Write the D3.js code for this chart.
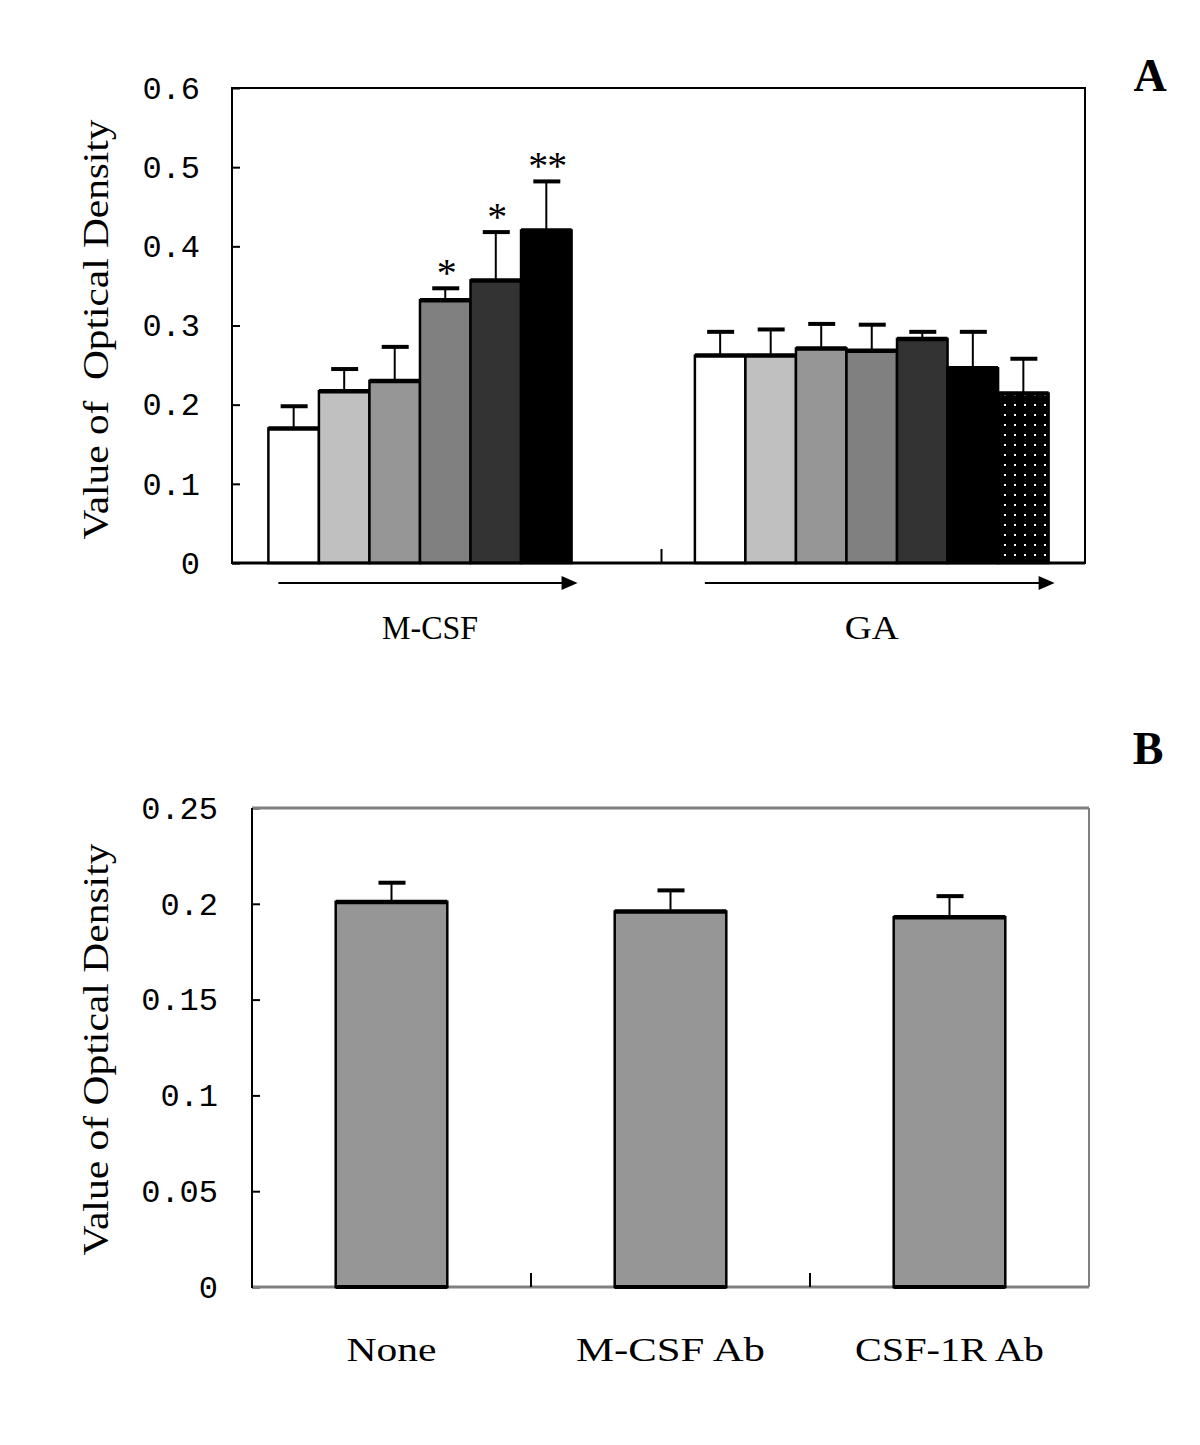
<!DOCTYPE html>
<html>
<head>
<meta charset="utf-8">
<script src="https://cdn.jsdelivr.net/npm/d3@7"></script>
<style>
  html, body { margin: 0; padding: 0; background: #fff; }
  svg { display: block; }
</style>
</head>
<body>
<svg id="chart" width="1200" height="1445"></svg>
<script>
// ---------- Data ----------
const groupsA = ["M-CSF", "GA"];
const mcsfValues = [0.170, 0.217, 0.230, 0.332, 0.357, 0.420];
const mcsfErrors = [0.028, 0.028, 0.043, 0.015, 0.061, 0.062];
const mcsfMarks  = ["", "", "", "*", "*", "**"];
const gaValues   = [0.262, 0.262, 0.271, 0.268, 0.283, 0.246, 0.214];
const gaErrors   = [0.030, 0.033, 0.031, 0.033, 0.009, 0.046, 0.044];
const seriesFills = ["#ffffff", "#c0c0c0", "#969696", "#808080", "#333333", "#000000", "url(#dots)"];
const ticksA = [0, 0.1, 0.2, 0.3, 0.4, 0.5, 0.6];
const tickLabelsA = ["0", "0.1", "0.2", "0.3", "0.4", "0.5", "0.6"];

const categoriesB = ["None", "M-CSF Ab", "CSF-1R Ab"];
const valuesB = [0.201, 0.196, 0.193];
const errorsB = [0.010, 0.011, 0.011];
const ticksB = [0, 0.05, 0.1, 0.15, 0.2, 0.25];
const tickLabelsB = ["0", "0.05", "0.1", "0.15", "0.2", "0.25"];

const svg = d3.select("#chart");
const defs = svg.append("defs");
const pat = defs.append("pattern").attr("id", "dots").attr("patternUnits", "userSpaceOnUse")
  .attr("width", 10).attr("height", 10);
pat.append("rect").attr("width", 10).attr("height", 10).attr("fill", "#000");
pat.append("rect").attr("x", 4).attr("y", 4).attr("width", 2).attr("height", 2).attr("fill", "#fff");

const serif = "'Liberation Serif', 'Times New Roman', serif";
const mono = "'Liberation Mono', monospace";

// ---------- Panel A ----------
const A = { left: 232, right: 1085, top: 88, bottom: 563 };
const yA = d3.scaleLinear().domain([0, 0.6]).range([A.bottom, A.top]);
const x0 = d3.scaleBand().domain(groupsA).range([A.left, A.right]);
const x1 = d3.scaleBand().domain(d3.range(7)).range([0, x0.bandwidth()]).paddingOuter(0.72).paddingInner(0);
const bw = x1.bandwidth();

const dataA = [
  { g: "M-CSF", vals: mcsfValues, errs: mcsfErrors, marks: mcsfMarks, labelW: 96 },
  { g: "GA", vals: gaValues, errs: gaErrors, marks: gaValues.map(() => ""), labelW: 54 }
];

const gA = svg.append("g");
const axA = d3.axisLeft(yA).tickValues(ticksA).tickFormat((d, i) => tickLabelsA[i])
  .tickSizeInner(-8).tickSizeOuter(0).tickPadding(32);
const axAg = gA.append("g").attr("transform", `translate(${A.left},0)`).call(axA);
axAg.select(".domain").remove();
axAg.selectAll(".tick line").attr("stroke", "#000").attr("stroke-width", 2);
axAg.selectAll(".tick text").attr("font-family", mono).attr("font-size", 32).attr("fill", "#000");

dataA.forEach(d => {
  const gx = x0(d.g);
  const grp = gA.append("g");
  d.vals.forEach((v, i) => {
    const x = gx + x1(i);
    grp.append("rect").attr("x", x).attr("y", yA(v)).attr("width", bw).attr("height", yA(0) - yA(v))
      .attr("fill", seriesFills[i]).attr("stroke", "#000").attr("stroke-width", 2.5);
    grp.append("line").attr("x1", x).attr("x2", x + bw).attr("y1", yA(v)).attr("y2", yA(v))
      .attr("stroke", "#000").attr("stroke-width", 4.5);
    const cx = x + bw / 2, ye = yA(v + d.errs[i]);
    grp.append("line").attr("x1", cx).attr("x2", cx).attr("y1", yA(v)).attr("y2", ye)
      .attr("stroke", "#000").attr("stroke-width", 2);
    grp.append("line").attr("x1", cx - 13).attr("x2", cx + 14).attr("y1", ye).attr("y2", ye)
      .attr("stroke", "#000").attr("stroke-width", 4);
    if (d.marks[i]) {
      grp.append("text").attr("x", cx + 1).attr("y", ye - 2).attr("text-anchor", "middle")
        .attr("font-family", serif).attr("font-size", 40)
        .attr("letter-spacing", -1).text(d.marks[i]);
    }
  });
  const n = d.vals.length;
  const xs = gx + x1(0) + 10, xe = gx + x1(n - 1) + bw + 6;
  const ay = 583;
  grp.append("line").attr("x1", xs).attr("x2", xe - 12).attr("y1", ay).attr("y2", ay)
    .attr("stroke", "#000").attr("stroke-width", 2);
  grp.append("path").attr("d", `M${xe},${ay} L${xe - 16},${ay - 7} L${xe - 16},${ay + 7} Z`).attr("fill", "#000");
  const lx = d.g === "M-CSF" ? x0(d.g) + x1(0) + 3.2 * bw : x0(d.g) + x1(0) + 3.5 * bw;
  grp.append("text").attr("x", lx).attr("y", 639).attr("text-anchor", "middle")
    .attr("font-family", serif).attr("font-size", 34)
    .attr("textLength", d.labelW).attr("lengthAdjust", "spacingAndGlyphs").text(d.g);
});

gA.append("rect").attr("x", A.left).attr("y", A.top).attr("width", A.right - A.left).attr("height", A.bottom - A.top)
  .attr("fill", "none").attr("stroke", "#000").attr("stroke-width", 2);
gA.append("line").attr("x1", A.left).attr("x2", A.right).attr("y1", A.bottom).attr("y2", A.bottom)
  .attr("stroke", "#000").attr("stroke-width", 3);
gA.append("line").attr("x1", x0("GA") + 3).attr("x2", x0("GA") + 3).attr("y1", A.bottom).attr("y2", A.bottom - 14)
  .attr("stroke", "#000").attr("stroke-width", 2);

gA.append("text").attr("transform", `translate(108,${(A.top + A.bottom) / 2 + 4}) rotate(-90)`)
  .attr("text-anchor", "middle").attr("font-family", serif).attr("font-size", 35)
  .attr("textLength", 420).attr("lengthAdjust", "spacingAndGlyphs").attr("xml:space", "preserve")
  .text("Value of  Optical Density");

svg.append("text").attr("x", 1150).attr("y", 91).attr("text-anchor", "middle")
  .attr("font-family", serif).attr("font-size", 46).attr("font-weight", "bold").text("A");

// ---------- Panel B ----------
const B = { left: 252, right: 1089, top: 808, bottom: 1287 };
const yB = d3.scaleLinear().domain([0, 0.25]).range([B.bottom, B.top]);
const xB = d3.scaleBand().domain(categoriesB).range([B.left, B.right]);
const bwB = xB.bandwidth() * 0.4;
const labelWB = [90, 189, 189];

const gB = svg.append("g");
const axB = d3.axisLeft(yB).tickValues(ticksB).tickFormat((d, i) => tickLabelsB[i])
  .tickSizeInner(-8).tickSizeOuter(0).tickPadding(34);
const axBg = gB.append("g").attr("transform", `translate(${B.left},0)`).call(axB);
axBg.select(".domain").remove();
axBg.selectAll(".tick line").attr("stroke", "#000").attr("stroke-width", 2);
axBg.selectAll(".tick text").attr("font-family", mono).attr("font-size", 32).attr("fill", "#000");

gB.append("line").attr("x1", B.left).attr("x2", B.right).attr("y1", B.top).attr("y2", B.top)
  .attr("stroke", "#808080").attr("stroke-width", 3);
gB.append("line").attr("x1", B.right).attr("x2", B.right).attr("y1", B.top).attr("y2", B.bottom)
  .attr("stroke", "#808080").attr("stroke-width", 2);
gB.append("line").attr("x1", B.left).attr("x2", B.right).attr("y1", B.bottom).attr("y2", B.bottom)
  .attr("stroke", "#808080").attr("stroke-width", 3);
gB.append("line").attr("x1", B.left).attr("x2", B.left).attr("y1", B.top).attr("y2", B.bottom + 1)
  .attr("stroke", "#000").attr("stroke-width", 2);

categoriesB.slice(1).forEach(c => {
  gB.append("line").attr("x1", xB(c)).attr("x2", xB(c)).attr("y1", B.bottom).attr("y2", B.bottom - 14)
    .attr("stroke", "#000").attr("stroke-width", 2);
});

categoriesB.forEach((c, i) => {
  const x = xB(c) + (xB.bandwidth() - bwB) / 2;
  const v = valuesB[i];
  gB.append("rect").attr("x", x).attr("y", yB(v)).attr("width", bwB).attr("height", yB(0) - yB(v))
    .attr("fill", "#969696").attr("stroke", "#000").attr("stroke-width", 2.5);
  gB.append("line").attr("x1", x).attr("x2", x + bwB).attr("y1", yB(v)).attr("y2", yB(v))
    .attr("stroke", "#000").attr("stroke-width", 4.5);
  gB.append("line").attr("x1", x).attr("x2", x + bwB).attr("y1", yB(0)).attr("y2", yB(0))
    .attr("stroke", "#000").attr("stroke-width", 4);
  const cx = x + bwB / 2, ye = yB(v + errorsB[i]);
  gB.append("line").attr("x1", cx).attr("x2", cx).attr("y1", yB(v)).attr("y2", ye)
    .attr("stroke", "#000").attr("stroke-width", 2);
  gB.append("line").attr("x1", cx - 13).attr("x2", cx + 14).attr("y1", ye).attr("y2", ye)
    .attr("stroke", "#000").attr("stroke-width", 4);
  gB.append("text").attr("x", cx).attr("y", 1361).attr("text-anchor", "middle")
    .attr("font-family", serif).attr("font-size", 34)
    .attr("textLength", labelWB[i]).attr("lengthAdjust", "spacingAndGlyphs").text(c);
});

gB.append("text").attr("transform", `translate(108,${(B.top + B.bottom) / 2 + 2}) rotate(-90)`)
  .attr("text-anchor", "middle").attr("font-family", serif).attr("font-size", 35)
  .attr("textLength", 412).attr("lengthAdjust", "spacingAndGlyphs")
  .text("Value of Optical Density");

svg.append("text").attr("x", 1148).attr("y", 764).attr("text-anchor", "middle")
  .attr("font-family", serif).attr("font-size", 46).attr("font-weight", "bold").text("B");
</script>
</body>
</html>
